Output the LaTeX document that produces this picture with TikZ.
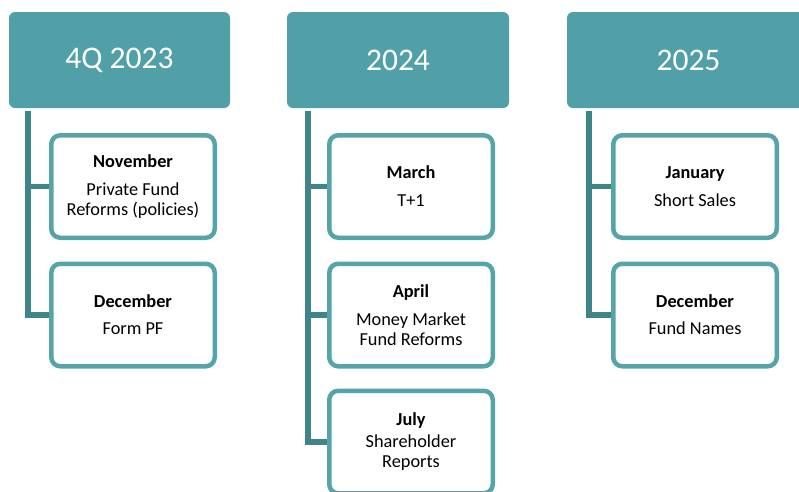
\documentclass[tikz,border=0pt]{standalone}
\usepackage{fontspec}
\setmainfont{Carlito}

\definecolor{headteal}{RGB}{82,160,167}
\definecolor{boxteal}{RGB}{86,164,170}
\definecolor{stemteal}{RGB}{63,132,137}

\tikzset{
  year/.style={fill=headteal, rounded corners=6pt, text=white, inner sep=0pt,
    minimum height=96pt, font=\fontsize{31.5}{37}\selectfont},
  item/.style={draw=boxteal, line width=4.5pt, rounded corners=9pt, fill=white,
    inner sep=0pt, minimum width=163.5pt, minimum height=102.5pt, align=center,
    font=\fontsize{18.3}{20}\selectfont},
  stem/.style={draw=stemteal, line width=5.5pt}
}

\begin{document}
\begin{tikzpicture}[x=1pt, y=-1pt]
    \useasboundingbox (0, 0) rectangle (799, 491);

    % year headers
    \node[year, minimum width=221pt] (y1) at (119.5, 60) {4Q 2023};
    \node[year, minimum width=222pt] (y2) at (398, 60) {2024};
    \node[year, minimum width=243pt] (y3) at (688.5, 60) {2025};

    % rule changes under each year
    \foreach \n/\x/\y/\txt in {
        nov/133/186.5/{\textbf{November}\\[8pt]Private Fund\\Reforms (policies)},
        dec/133/315/{\textbf{December}\\[7pt]Form PF},
        mar/411/186.5/{\textbf{March}\\[8pt]T+1},
        apr/411/315/{\textbf{April}\\[8pt]Money Market\\Fund Reforms},
        jul/411/442/{\textbf{July}\\[2pt]Shareholder\\Reports},
        jan/695/186.5/{\textbf{January}\\[8pt]Short Sales},
        decb/695/315/{\textbf{December}\\[7pt]Fund Names}} {
      \node[item] (\n) at (\x, \y) {\txt};
    }

    % stems down the left of each column
    \coordinate (t1) at ([xshift=19pt, yshift=-3pt]y1.south west);
    \coordinate (t2) at ([xshift=21pt, yshift=-3pt]y2.south west);
    \coordinate (t3) at ([xshift=22pt, yshift=-3pt]y3.south west);

    \draw[stem] (t1) |- (dec.west);
    \draw[stem] (t1 |- nov.west) -- (nov.west);

    \draw[stem] (t2) |- (jul.west);
    \draw[stem] (t2 |- mar.west) -- (mar.west);
    \draw[stem] (t2 |- apr.west) -- (apr.west);

    \draw[stem] (t3) |- (decb.west);
    \draw[stem] (t3 |- jan.west) -- (jan.west);
\end{tikzpicture}
\end{document}
